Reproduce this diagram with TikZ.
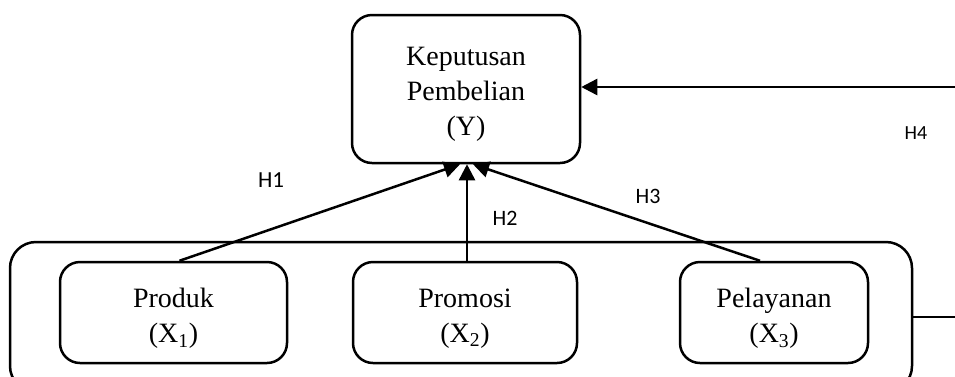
\documentclass[tikz,border=0pt]{standalone}
\usepackage{fontspec}
\setmainfont{Liberation Serif}
\newfontfamily\hfont{Carlito}
\usetikzlibrary{arrows.meta}
\begin{document}
\begin{tikzpicture}[x=1pt,y=-1pt,
  rbox/.style={draw, line width=2.5pt, rounded corners=20pt, inner sep=0pt},
  txt/.style={align=center, inner sep=0pt, font=\fontsize{28}{35}\selectfont},
  arr/.style={line width=2.5pt, -{Triangle[length=16pt,width=16pt]}},
  plain/.style={line width=2.5pt},
  hlab/.style={font=\hfont\fontsize{#1}{#1}\selectfont, inner sep=0pt}]
\useasboundingbox (0,0) rectangle (955,376);
\clip (0,0) rectangle (955,376);
\node[rbox, minimum width=228pt, minimum height=148pt] (y) at (466,89) {};
\node[txt] (yt) at ([yshift=-5pt]y.center) {Keputusan\\Pembelian\\(Y)};
\node[rbox, rounded corners=26pt, minimum width=902pt, minimum height=150pt] (outer) at (461,317) {};
\node[rbox, minimum width=227pt, minimum height=101pt] (x1) at (173.5,312.5) {};
\node[rbox, minimum width=224pt, minimum height=101pt] (x2) at (465,312.5) {};
\node[rbox, minimum width=188pt, minimum height=101pt] (x3) at (774,312.5) {};
\node[txt] (x1t) at ([yshift=-6pt]x1.center) {Produk\\(X\textsubscript{1})};
\node[txt] (x2t) at ([yshift=-6pt]x2.center) {Promosi\\(X\textsubscript{2})};
\node[txt] (x3t) at ([yshift=-6pt]x3.center) {Pelayanan\\(X\textsubscript{3})};
\coordinate (rtop) at (955,87);
\coordinate (rbot) at (955,317);
\draw[arr] ([xshift=6pt]x1.north) -- ([xshift=-6pt]y.south);
\draw[arr] ([xshift=2pt]x2.north) -- ([xshift=1pt]y.south);
\draw[arr] ([xshift=-14pt]x3.north) -- ([xshift=7pt]y.south);
\draw[arr] (rtop) -- (rtop -| y.east);
\draw[plain] (outer.east |- rbot) -- (rbot);
\node[hlab=23] (h1) at (271,180) {H1};
\node[hlab=22] (h2) at (505,218) {H2};
\node[hlab=22] (h3) at (648,196) {H3};
\node[hlab=20] (h4) at (916,133) {H4};
\end{tikzpicture}
\end{document}
